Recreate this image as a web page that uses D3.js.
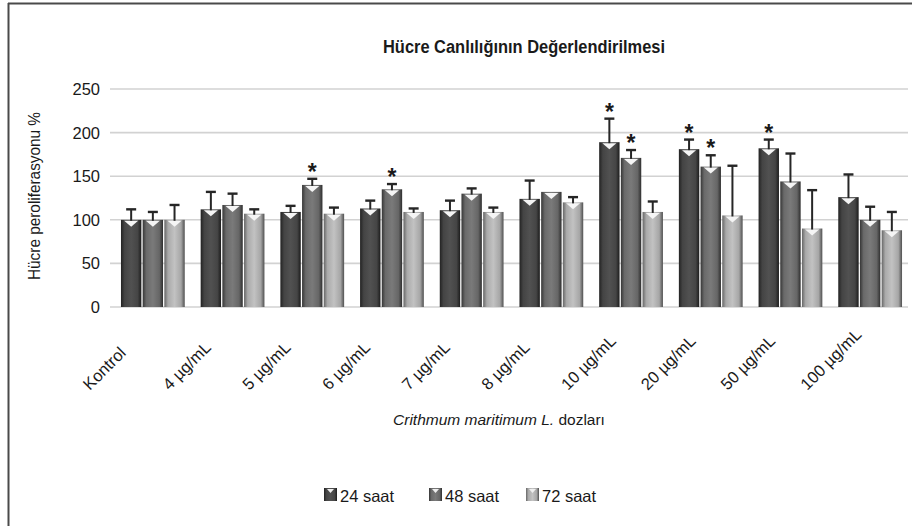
<!DOCTYPE html>
<html><head><meta charset="utf-8">
<script src="https://cdn.jsdelivr.net/npm/d3@7"></script>
<style>
html,body{margin:0;padding:0;background:#fff;}
text{font-family:"Liberation Sans",Arial,sans-serif;fill:#1a1a1a;}
</style></head>
<body><svg id="c" width="912" height="526"></svg>
<script>
const categories = ["Kontrol","4 µg/mL","5 µg/mL","6 µg/mL","7 µg/mL","8 µg/mL","10 µg/mL","20 µg/mL","50 µg/mL","100 µg/mL"];
const seriesNames = ["24 saat","48 saat","72 saat"];
const values24 = [100,112,109,113,111,124,189,181,182,126];
const values48 = [100,117,140,135,130,132,171,161,144,100];
const values72 = [100,107,107,109,109,120,109,105,90,88];
const err24 = [12,20,7,9,11,21,27,11,10,26];
const err48 = [9,13,7,6,6,0,9,13,32,15];
const err72 = [17,5,7,4,5,6,12,57,44,21];
const sig24 = [0,0,0,0,0,0,1,1,1,0];
const sig48 = [0,0,1,1,0,0,1,1,0,0];
const sig72 = [0,0,0,0,0,0,0,0,0,0];
const yTicks = [0,50,100,150,200,250];

const svg = d3.select("#c");
const series = [
  {name:seriesNames[0], v:values24, e:err24, s:sig24, stops:["#222222","#444444","#515151","#454545","#1c1c1c"]},
  {name:seriesNames[1], v:values48, e:err48, s:sig48, stops:["#363636","#6a6a6a","#7a7a7a","#666666","#2e2e2e"]},
  {name:seriesNames[2], v:values72, e:err72, s:sig72, stops:["#666666","#aaaaaa","#c2c2c2","#a6a6a6","#505050"]}
];
const defs = svg.append("defs");
series.forEach((s,i)=>{
  const g = defs.append("linearGradient").attr("id","g"+i).attr("x1",0).attr("x2",1).attr("y1",0).attr("y2",0);
  [0,0.18,0.5,0.82,1].forEach((o,k)=>g.append("stop").attr("offset",o).attr("stop-color",s.stops[k]));
});

// frame
svg.append("line").attr("x1",8.5).attr("x2",8.5).attr("y1",3).attr("y2",526).attr("stroke","#4a4a4a").attr("stroke-width",2);
svg.append("line").attr("x1",8).attr("x2",912).attr("y1",3.5).attr("y2",3.5).attr("stroke","#4a4a4a").attr("stroke-width",2);

const y = d3.scaleLinear().domain([0,250]).range([307,89]);
const x = d3.scaleBand().domain(categories).range([113,910]).paddingInner(0.2).paddingOuter(0.1);
const xs = d3.scaleBand().domain(seriesNames).range([0,x.bandwidth()]).paddingInner(0.06);

// grid
svg.append("g").selectAll("line").data(yTicks).join("line")
  .attr("x1",110).attr("x2",908).attr("y1",d=>y(d)).attr("y2",d=>y(d))
  .attr("stroke","#d2d2d2").attr("stroke-width",1.6);
// y tick labels
svg.append("g").selectAll("text").data(yTicks).join("text")
  .attr("x",100).attr("y",d=>y(d)).attr("dy","0.36em").attr("text-anchor","end")
  .attr("font-size",16.5).text(d=>d);

// title
svg.append("text").attr("x",524).attr("y",53).attr("text-anchor","middle")
  .attr("font-size",17.5).attr("font-weight","bold").attr("textLength",282).attr("lengthAdjust","spacingAndGlyphs")
  .text("Hücre Canlılığının Değerlendirilmesi");
// y label
svg.append("text").attr("transform","translate(40,196) rotate(-90)").attr("text-anchor","middle")
  .attr("font-size",16).attr("textLength",168).attr("lengthAdjust","spacingAndGlyphs").text("Hücre peroliferasyonu %");

// bars
series.forEach((s,si)=>{
  const g = svg.append("g");
  const data = categories.map((c,i)=>({c, v:s.v[i], e:s.e[i], sig:s.s[i]}));
  const bx = d=>x(d.c)+xs(s.name);
  const bw = xs.bandwidth();
  g.selectAll("line.cap").data(data.filter(d=>d.e>0)).join("line")
    .attr("x1",d=>bx(d)+bw/2-5).attr("x2",d=>bx(d)+bw/2+5)
    .attr("y1",d=>y(d.v+d.e)).attr("y2",d=>y(d.v+d.e))
    .attr("stroke","#262626").attr("stroke-width",2.4);
  g.selectAll("rect").data(data).join("rect")
    .attr("x",bx).attr("width",bw).attr("y",d=>y(d.v)).attr("height",d=>y(0)-y(d.v))
    .attr("fill","url(#g"+si+")");
  // bevel chevron at bar top
  g.selectAll("path").data(data).join("path")
    .attr("d",d=>{const cx=bx(d)+bw/2, t=y(d.v); return `M${cx-7},${t+1}L${cx+7},${t+1}L${cx},${t+7}Z`;})
    .attr("fill","#f5f5f5");
  // error bar stems
  g.selectAll("line.eb").data(data.filter(d=>d.e>0)).join("line")
    .attr("x1",d=>bx(d)+bw/2).attr("x2",d=>bx(d)+bw/2)
    .attr("y1",d=>y(d.v)+1).attr("y2",d=>y(d.v+d.e))
    .attr("stroke","#262626").attr("stroke-width",2);
  // significance stars
  g.selectAll("text").data(data.filter(d=>d.sig)).join("text")
    .attr("x",d=>bx(d)+bw/2).attr("y",d=>y(d.v+d.e)+1).attr("text-anchor","middle")
    .attr("font-size",23).attr("font-weight","bold").text("*");
});

// x tick labels
svg.append("g").selectAll("text").data(categories).join("text")
  .attr("transform",d=>`translate(${x(d)+x.bandwidth()/2-63},391) rotate(-45)`)
  .attr("font-size",16.5).text(d=>d);

// x axis title
const xt = svg.append("text").attr("x",499).attr("y",425).attr("text-anchor","middle").attr("font-size",15.5);
xt.append("tspan").attr("font-style","italic").text("Crithmum maritimum L.");
xt.append("tspan").text(" dozları");

// legend
const lx = [324,429,526];
const lg = svg.append("g").selectAll("g").data(series).join("g")
  .attr("transform",(d,i)=>`translate(${lx[i]},488)`);
lg.append("rect").attr("width",13).attr("height",13).attr("fill",(d,i)=>"url(#g"+i+")");
lg.append("path").attr("d","M3,1L10,1L6.5,5Z").attr("fill","#eee");
lg.append("text").attr("x",16).attr("y",13.5).attr("font-size",16.5).text(d=>d.name);
</script></body></html>
